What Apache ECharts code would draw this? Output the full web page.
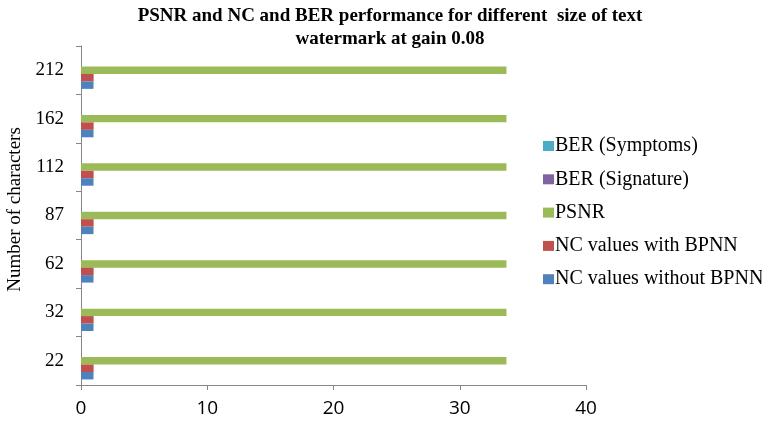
<!DOCTYPE html>
<html><head><meta charset="utf-8">
<script src="https://cdn.jsdelivr.net/npm/echarts@6/dist/echarts.min.js"></script>
<style>html,body{margin:0;padding:0;background:#fff}#c{width:762px;height:423px}</style>
</head><body><div id="c"></div>
<script>
const categories = ['22','32','62','87','112','162','212'];
const ncWithout = [0.99,0.99,0.99,0.99,0.99,0.99,0.99];
const ncWith = [1,1,1,1,1,1,1];
const psnr = [33.7,33.7,33.7,33.7,33.7,33.7,33.7];
const berSignature = [0,0,0,0,0,0,0];
const berSymptoms = [0,0,0,0,0,0,0];
const xTicks = [0,10,20,30,40];

const chart = echarts.init(document.getElementById('c'));
const serif = '"Liberation Serif","Times New Roman",serif';
const mk = (name, data, color) => ({name, type:'bar', data, barGap:'0%', barCategoryGap:'23%', itemStyle:{color}, silent:true});
chart.setOption({
  animation:false,
  title:{text:'PSNR and NC and BER performance for different  size of text\nwatermark at gain 0.08', left:385, textAlign:'center', top:0,
    textStyle:{fontFamily:serif, fontWeight:'bold', fontSize:19, lineHeight:23, color:'#000'}},
  grid:{left:81, right:176, top:46, bottom:38, containLabel:false, outerBoundsMode:'none'},
  legend:{orient:'vertical', left:538, top:131, itemWidth:11, itemHeight:10, itemGap:13.3, icon:'rect',
    data:['BER (Symptoms)','BER (Signature)','PSNR','NC values with BPNN','NC values without BPNN'],
    textStyle:{fontFamily:serif, fontSize:20, color:'#000', padding:[0,0,0,-4]}},
  xAxis:{type:'value', min:0, max:40, interval:10,
    axisLine:{show:true, lineStyle:{color:'#868686'}},
    axisTick:{show:true, length:5, lineStyle:{color:'#868686'}},
    splitLine:{show:false},
    axisLabel:{fontFamily:'"Open Sans","Liberation Sans",sans-serif', fontSize:19, color:'#000', margin:14},
    data:xTicks},
  yAxis:{type:'category', data:categories, name:'Number of characters', nameLocation:'middle', nameGap:53,
    nameTextStyle:{fontFamily:serif, fontSize:19, color:'#000', padding:[0,0,0,12]},
    axisLine:{show:true, lineStyle:{color:'#868686'}},
    axisTick:{show:true, length:5, lineStyle:{color:'#868686'}},
    axisLabel:{fontFamily:serif, fontSize:19, color:'#000', margin:17}},
  series:[
    mk('BER (Symptoms)', berSymptoms, '#4BACC6'),
    mk('BER (Signature)', berSignature, '#8064A2'),
    mk('PSNR', psnr, '#9BBB59'),
    mk('NC values with BPNN', ncWith, '#C0504D'),
    mk('NC values without BPNN', ncWithout, '#4F81BD')
  ]
});
</script></body></html>
